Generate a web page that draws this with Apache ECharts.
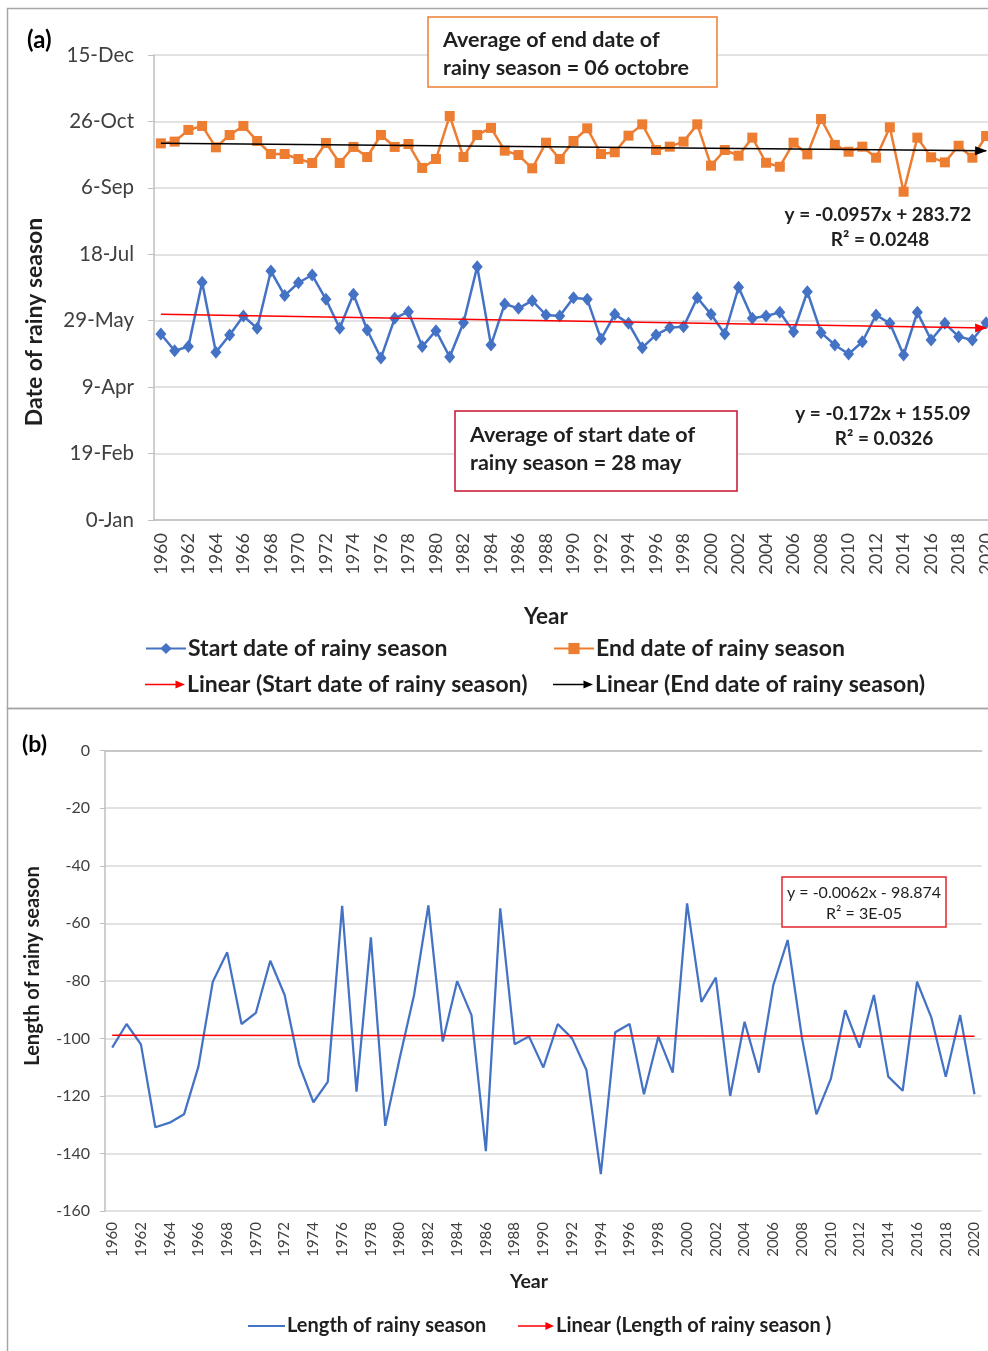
<!DOCTYPE html>
<html>
<head>
    <meta charset="utf-8">
    <title>Rainy season dates and length</title>
    <script src="https://cdn.jsdelivr.net/npm/echarts@6/dist/echarts.min.js"></script>
    <style>
        html, body { margin: 0; padding: 0; background: #fff; }
        #chart { width: 988px; height: 1351px; }
    </style>
</head>
<body>
    <div id="chart"></div>

    <script>
    // categories
    const years = ['1960','1961','1962','1963','1964','1965','1966','1967','1968','1969',
        '1970','1971','1972','1973','1974','1975','1976','1977','1978','1979',
        '1980','1981','1982','1983','1984','1985','1986','1987','1988','1989',
        '1990','1991','1992','1993','1994','1995','1996','1997','1998','1999',
        '2000','2001','2002','2003','2004','2005','2006','2007','2008','2009',
        '2010','2011','2012','2013','2014','2015','2016','2017','2018','2019','2020'];

    // start date of rainy season (day of year)
    const startDate = [140.0,127.4,130.5,178.9,126.2,139.3,153.5,144.3,187.4,168.9,
        178.6,184.4,166.1,144.3,169.9,143.0,121.9,151.8,156.8,130.5,
        142.5,122.7,148.5,190.7,131.7,162.6,159.3,165.1,154.3,153.5,
        167.3,166.1,136.2,154.8,148.0,129.7,139.3,144.8,145.5,167.3,
        154.8,140.0,175.1,151.8,153.5,156.3,141.7,171.8,141.0,131.7,
        124.9,134.2,154.3,148.0,124.2,156.3,135.5,148.0,138.0,135.5,148.5];

    // end date of rainy season (day of year)
    const endDate = [283.5,284.8,293.6,296.6,280.5,289.8,296.6,285.3,275.5,275.5,
        271.7,268.7,283.8,268.7,280.8,273.2,289.8,280.8,283.0,265.0,
        271.7,304.1,273.2,289.8,295.1,278.0,274.7,264.7,284.0,271.7,
        285.3,294.8,275.5,276.8,289.3,297.8,278.5,281.0,284.8,297.8,
        266.7,278.5,274.2,287.8,268.9,265.9,284.0,275.2,301.8,282.3,
        277.2,281.0,272.7,295.6,247.1,287.8,273.0,269.2,281.7,272.7,289.0];

    // length of rainy season (panel b)
    const seasonLength = [-103.2,-95.0,-102.1,-130.9,-129.3,-126.4,-109.8,-80.3,-70.1,-95.0,
        -91.1,-73.0,-84.9,-109.0,-122.2,-115.1,-53.9,-118.5,-64.9,-130.4,
        -107.0,-85.0,-53.8,-101.1,-80.1,-91.9,-139.2,-54.8,-102.0,-99.3,
        -110.1,-95.0,-100.0,-111.0,-147.2,-97.9,-95.0,-119.4,-99.4,-111.9,
        -53.1,-87.3,-78.9,-120.0,-94.2,-111.9,-81.5,-65.8,-100.0,-126.4,
        -114.1,-90.2,-103.2,-84.9,-113.3,-118.2,-80.3,-92.8,-113.3,-91.9,-119.4];

    // trend coefficients [slope, intercept] as printed on the chart
    const startTrend = [-0.172, 155.09];
    const endTrend = [-0.0957, 283.72];
    const lengthTrend = [-0.0062, -98.874];

    // tick labels
    const dateTickLabels = ['0-Jan','19-Feb','9-Apr','29-May','18-Jul','6-Sep','26-Oct','15-Dec'];

    const FONT = 'Lato, "Open Sans", sans-serif';
    const TICK = '#404040';
    const DARK = '#1f1f1f';
    const GRID = '#d9d9d9';
    const AXIS = '#bfbfbf';
    const BLUE = '#4472c4';
    const ORANGE = '#ed7d31';
    // legend icons drawn in a 42x14 box (corner specks keep the box size)
    const BOX = 'M0,0 L0.01,0 L0,0.01 Z M42,14 L41.99,14 L42,13.99 Z ';
    const ARROW = 'path://' + BOX + 'M0,6.2 L32,6.2 L32,3 L42,7 L32,11 L32,7.8 L0,7.8 Z';
    const THIN = 'path://' + BOX + 'M0,6 L42,6 L42,8 L0,8 Z';

    // two-point trend line with an arrow head on the last point
    function trendData(coef) {
        const n = years.length;
        return [
            [0, coef[1] + coef[0] * 1],
            { value: [n - 1, coef[1] + coef[0] * n], symbol: 'triangle',
              symbolSize: [9, 12], symbolRotate: -90, symbolOffset: [-5, 0] }
        ];
    }

    function boxText(x, y, lines, font, align) {
        return lines.map((t, i) => ({
            type: 'text', x: x, y: y + i * 28, z: 20,
            style: { text: t, font: font, fill: DARK, textAlign: align || 'left', textVerticalAlign: 'middle' }
        }));
    }

    const chart = echarts.init(document.getElementById('chart'), null, { renderer: 'canvas' });

    const option = {
        animation: false,
        backgroundColor: '#fff',
        textStyle: { fontFamily: FONT },
        grid: [
            { left: 154, top: 55, width: 839, height: 465, outerBoundsMode: 'none', containLabel: false },
            { left: 105, top: 750.7, width: 876.7, height: 460.3, outerBoundsMode: 'none', containLabel: false }
        ],
        xAxis: [
            {
                type: 'category', gridIndex: 0, data: years, boundaryGap: true,
                axisLine: { lineStyle: { color: AXIS, width: 1.5 } },
                axisTick: { interval: 0, length: 7, lineStyle: { color: AXIS } },
                axisLabel: { interval: 1, rotate: 90, margin: 13, color: TICK, fontSize: 18, fontFamily: FONT },
                splitLine: { show: false }
            },
            {
                type: 'category', gridIndex: 1, data: years, position: 'top', boundaryGap: true,
                axisLine: { lineStyle: { color: AXIS, width: 1.5 } },
                axisTick: { interval: 0, inside: true, length: 5, lineStyle: { color: AXIS } },
                axisLabel: { show: false },
                splitLine: { show: false }
            },
            {
                type: 'category', gridIndex: 1, data: years, position: 'bottom', boundaryGap: true,
                axisLine: { show: false },
                axisTick: { show: false },
                axisLabel: { interval: 1, rotate: 90, margin: 11, color: TICK, fontSize: 15, fontFamily: FONT },
                splitLine: { show: false }
            }
        ],
        yAxis: [
            {
                type: 'value', gridIndex: 0, min: 0, max: 350, interval: 50,
                axisLine: { show: true, lineStyle: { color: AXIS, width: 1.5 } },
                axisTick: { show: true, length: 6, lineStyle: { color: AXIS } },
                axisLabel: { margin: 20, color: TICK, fontSize: 20.5, fontFamily: FONT,
                    formatter: v => dateTickLabels[Math.round(v / 50)] },
                splitLine: { lineStyle: { color: GRID, width: 1.5 } }
            },
            {
                type: 'value', gridIndex: 1, min: -160, max: 0, interval: 20,
                axisLine: { show: true, lineStyle: { color: AXIS, width: 1.5 } },
                axisTick: { show: true, length: 5, lineStyle: { color: AXIS } },
                axisLabel: { margin: 15, color: TICK, fontSize: 16, fontFamily: FONT },
                splitLine: { lineStyle: { color: GRID, width: 1.5 } }
            }
        ],
        legend: [
            { data: ['Start date of rainy season'], left: 145, top: 637 },
            { data: ['End date of rainy season'], left: 553, top: 637 },
            { data: [{ name: 'Linear (Start date of rainy season)', icon: ARROW }], left: 145, top: 673 },
            { data: [{ name: 'Linear (End date of rainy season)', icon: ARROW }], left: 553, top: 673 },
            { data: [{ name: 'Length of rainy season', icon: THIN }], left: 248, top: 1316, itemWidth: 37,
              textStyle: { fontSize: 20 } },
            { data: [{ name: 'Linear (Length of rainy season )', icon: ARROW }], left: 518, top: 1316, itemWidth: 36,
              textStyle: { fontSize: 20 } }
        ].map(l => Object.assign({
            orient: 'horizontal', padding: 0, itemWidth: 40, itemHeight: 14,
            symbolKeepAspect: false, selectedMode: false
        }, l, {
            textStyle: Object.assign({ color: DARK, fontSize: 23, fontWeight: 'bold', fontFamily: FONT, padding: [0, 0, 0, -3] }, l.textStyle || {})
        })),
        series: [
            {
                name: 'Start date of rainy season', type: 'line', xAxisIndex: 0, yAxisIndex: 0,
                data: startDate, symbol: 'diamond', symbolSize: [11, 13], showAllSymbol: true,
                itemStyle: { color: BLUE }, lineStyle: { color: BLUE, width: 2.5 }, z: 3
            },
            {
                name: 'End date of rainy season', type: 'line', xAxisIndex: 0, yAxisIndex: 0,
                data: endDate, symbol: 'rect', symbolSize: 10, showAllSymbol: true,
                itemStyle: { color: ORANGE }, lineStyle: { color: ORANGE, width: 2.5 }, z: 3
            },
            {
                name: 'Linear (Start date of rainy season)', type: 'line', xAxisIndex: 0, yAxisIndex: 0,
                data: trendData(startTrend), symbol: 'none', showSymbol: true,
                itemStyle: { color: '#ff0000' }, lineStyle: { color: '#ff0000', width: 1.5 }, z: 4
            },
            {
                name: 'Linear (End date of rainy season)', type: 'line', xAxisIndex: 0, yAxisIndex: 0,
                data: trendData(endTrend), symbol: 'none', showSymbol: true,
                itemStyle: { color: '#000000' }, lineStyle: { color: '#000000', width: 1.5 }, z: 4
            },
            {
                name: 'Length of rainy season', type: 'line', xAxisIndex: 1, yAxisIndex: 1,
                data: seasonLength, symbol: 'none',
                itemStyle: { color: BLUE }, lineStyle: { color: BLUE, width: 2.25 }, z: 3
            },
            {
                name: 'Linear (Length of rainy season )', type: 'line', xAxisIndex: 1, yAxisIndex: 1,
                data: trendData(lengthTrend), symbol: 'none', showSymbol: true,
                itemStyle: { color: '#ff0000' }, lineStyle: { color: '#ff0000', width: 1.5 }, z: 4
            }
        ],
        graphic: [
            // panel frames
            { type: 'rect', shape: { x: 7.5, y: 8.5, width: 1000, height: 700 }, z: -1,
              style: { fill: 'none', stroke: '#a6a6a6', lineWidth: 1.5 } },
            { type: 'rect', shape: { x: 7.5, y: 708.5, width: 1000, height: 660 }, z: -1,
              style: { fill: 'none', stroke: '#a6a6a6', lineWidth: 1.5 } },
            // panel letters
            { type: 'text', x: 27, y: 40, style: { text: '(a)', font: 'bold 24px ' + FONT, fill: '#000', textVerticalAlign: 'middle' } },
            { type: 'text', x: 22, y: 745, style: { text: '(b)', font: 'bold 23px ' + FONT, fill: '#000', textVerticalAlign: 'middle' } },
            // axis titles
            { type: 'text', x: 35, y: 322, rotation: Math.PI / 2,
              style: { text: 'Date of rainy season', font: 'bold 23px ' + FONT, fill: DARK, textAlign: 'center', textVerticalAlign: 'middle' } },
            { type: 'text', x: 546, y: 617,
              style: { text: 'Year', font: 'bold 22.5px ' + FONT, fill: DARK, textAlign: 'center', textVerticalAlign: 'middle' } },
            { type: 'text', x: 33, y: 966, rotation: Math.PI / 2,
              style: { text: 'Length of rainy season', font: 'bold 20px ' + FONT, fill: DARK, textAlign: 'center', textVerticalAlign: 'middle' } },
            { type: 'text', x: 529, y: 1282,
              style: { text: 'Year', font: 'bold 19.5px ' + FONT, fill: DARK, textAlign: 'center', textVerticalAlign: 'middle' } },
            // annotation boxes
            { type: 'rect', z: 19, shape: { x: 428, y: 17, width: 289, height: 70 },
              style: { fill: '#fff', stroke: ORANGE, lineWidth: 1.5 } },
            ...boxText(443, 40, ['Average of end date of', 'rainy season = 06 octobre'], 'bold 21.5px ' + FONT),
            { type: 'rect', z: 19, shape: { x: 455, y: 411, width: 282, height: 80 },
              style: { fill: '#fff', stroke: '#c8102e', lineWidth: 1.5 } },
            ...boxText(470, 435, ['Average of start date of', 'rainy season = 28 may'], 'bold 21.5px ' + FONT),
            // trend equations
            ...boxText(878, 215, ['y = -0.0957x + 283.72'], 'bold 19px ' + FONT, 'center'),
            ...boxText(880, 240, ['R² = 0.0248'], 'bold 19px ' + FONT, 'center'),
            ...boxText(883, 414, ['y = -0.172x + 155.09'], 'bold 19px ' + FONT, 'center'),
            ...boxText(884, 439, ['R² = 0.0326'], 'bold 19px ' + FONT, 'center'),
            { type: 'rect', z: 19, shape: { x: 782, y: 877, width: 164, height: 50 },
              style: { fill: '#fff', stroke: '#e3262b', lineWidth: 1.5 } },
            ...boxText(864, 893, ['y = -0.0062x - 98.874'], '16px ' + FONT, 'center'),
            ...boxText(864, 914, ['R² = 3E-05'], '16px ' + FONT, 'center')
        ]
    };

    chart.setOption(option);
    </script>
</body>
</html>
